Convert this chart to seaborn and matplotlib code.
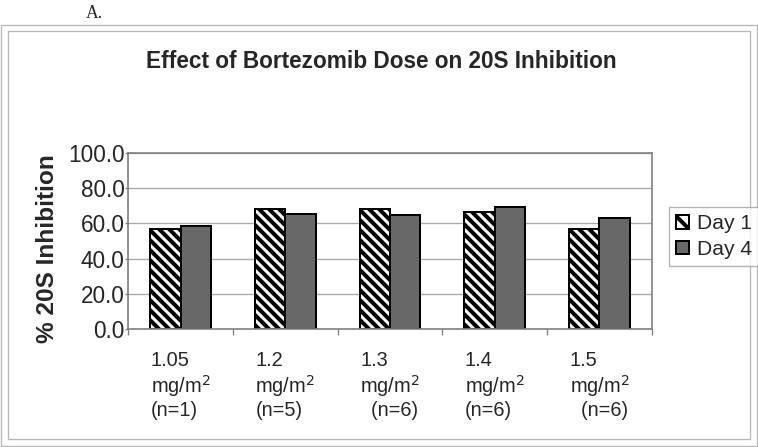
import numpy as np
import pandas as pd
import matplotlib
matplotlib.use("Agg")
import matplotlib.pyplot as plt
from matplotlib.patches import Rectangle
from matplotlib.ticker import FormatStrFormatter, FixedLocator
import seaborn as sns

# values
doses = ["1.05\nmg/m$^2$\n(n=1)", "1.2\nmg/m$^2$\n(n=5)", "1.3\nmg/m$^2$\n  (n=6)",
         "1.4\nmg/m$^2$\n(n=6)", "1.5\nmg/m$^2$\n  (n=6)"]
day1 = [56.6, 68.1, 68.1, 66.3, 56.6]
day4 = [58.5, 65.3, 64.7, 69.1, 62.9]
days = ["Day 1", "Day 4"]
yticks = [0, 20, 40, 60, 80, 100]

df = pd.DataFrame({
    "dose": doses * 2,
    "day": [days[0]] * len(doses) + [days[1]] * len(doses),
    "inhibition": day1 + day4,
})

sns.set_theme(style="white")
plt.rcParams["font.family"] = ["Liberation Sans", "DejaVu Sans"]
plt.rcParams["hatch.linewidth"] = 2.4
plt.rcParams["hatch.color"] = "black"

DPI = 120
fig = plt.figure(figsize=(758 / DPI, 447 / DPI), dpi=DPI)
W, H = 758, 447
ax = fig.add_axes([128.3 / W, 1 - 329.3 / H, (651.7 - 128.3) / W, (329.3 - 152.7) / H])

sns.barplot(data=df, x="dose", y="inhibition", hue="day", order=doses,
            palette={"Day 1": "white", "Day 4": "#686868"},
            width=0.58, gap=0, edgecolor="black", linewidth=1.2,
            saturation=1, ax=ax, legend=True)

# dense backslash stripes on Day 1 bars
stripe = chr(92) * 4
for bar in ax.containers[0]:
    bar.set_hatch(stripe)
    bar.set_facecolor("white")

# axes styling
ax.set_ylim(0, 100)
ax.set_xlim(-0.5, len(doses) - 0.5)
ax.set_yticks(yticks)
ax.yaxis.set_major_formatter(FormatStrFormatter("%.1f"))
ax.tick_params(axis="y", labelsize=13.5, length=1.8, width=0.8, color="#808080",
               pad=0.5, left=True)
ax.xaxis.set_minor_locator(FixedLocator(np.arange(-0.5, len(doses), 1.0)))
ax.tick_params(axis="x", which="major", length=0, labelsize=12, pad=13)
ax.tick_params(axis="x", which="minor", length=3.6, width=0.8, color="#808080",
               bottom=True)
for lbl in ax.get_xticklabels():
    lbl.set_multialignment("left")
    lbl.set_linespacing(1.15)
ax.grid(axis="y", color="#a8a8a8", linewidth=0.8)
ax.set_axisbelow(True)
for sp in ax.spines.values():
    sp.set_visible(True)
    sp.set_color("#808080")
    sp.set_linewidth(1.0)
ax.set_xlabel("")
ax.set_ylabel("")

# legend outside, right
handles, labels = ax.get_legend_handles_labels()
ax.legend_.remove()
handles[0].set_hatch(chr(92) * 2)
handles[0].set_facecolor("white")
leg = fig.legend(handles, labels, loc="upper left",
                 bbox_to_anchor=(669 / W, 1 - 207 / H), bbox_transform=fig.transFigure,
                 borderaxespad=0, fontsize=12.6, handlelength=0.6, handleheight=0.6,
                 handletextpad=0.4, labelspacing=0.3, borderpad=0.35,
                 frameon=True, fancybox=False, edgecolor="#a0a0a0")
leg.get_frame().set_linewidth(0.8)

# texts
fig.text(381 / W, 1 - 62 / H, "Effect of Bortezomib Dose on 20S Inhibition",
         ha="center", va="center", fontsize=13.6, fontweight="bold")
fig.text(48 / W, 1 - 249 / H, "% 20S Inhibition", rotation=90, ha="center",
         va="center", fontsize=14.6, fontweight="bold")
fig.text(94 / W, 1 - 13 / H, "A.", ha="center", va="center", fontsize=10.6,
         family=["Liberation Serif", "DejaVu Serif"])

# outer double frame
fig.patches.append(Rectangle((1 / W, 1 - 446 / H), 756 / W, 421 / H, fill=False,
                             edgecolor="#b8b8b8", linewidth=0.8,
                             transform=fig.transFigure, figure=fig))
fig.patches.append(Rectangle((8 / W, 1 - 439 / H), 742 / W, 408 / H, fill=False,
                             edgecolor="#b8b8b8", linewidth=0.8,
                             transform=fig.transFigure, figure=fig))

fig.savefig("out.png", dpi=DPI, facecolor="white")
